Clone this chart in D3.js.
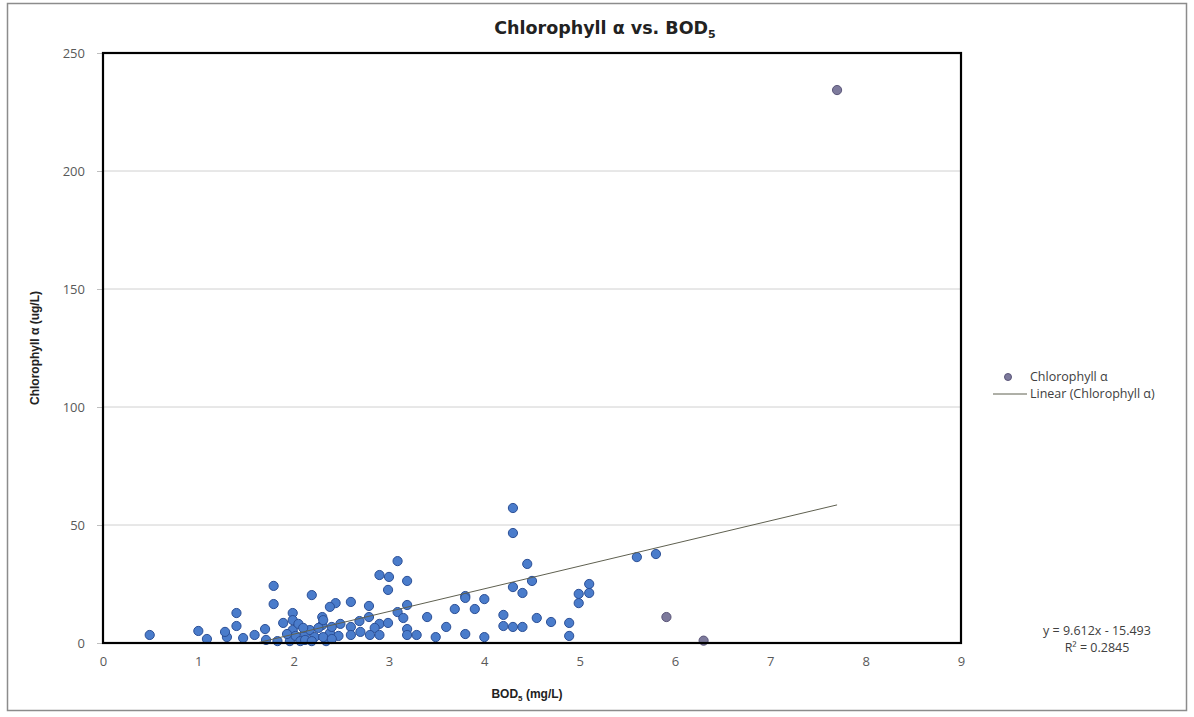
<!DOCTYPE html>
<html>
<head>
<meta charset="utf-8">
<script src="https://cdn.jsdelivr.net/npm/d3@7"></script>
<style>
  body { margin: 0; background: #fff; }
</style>
</head>
<body>
<div id="chart"></div>
<script>
// BOD5 (mg/L) and chlorophyll a (ug/L)
var bod = [0.49, 1.0, 1.09, 1.30, 1.28, 1.40, 1.40, 1.59, 1.70, 1.79, 1.79, 1.89, 1.99, 1.99, 1.99,
  2.19, 2.30, 2.30, 1.96, 2.02, 2.07, 2.12, 2.12, 2.17, 2.22, 2.26, 2.05, 2.10, 1.93, 1.83, 1.71, 1.47,
  2.19, 2.34, 2.38, 2.47, 2.31, 2.40,
  3.09, 2.90, 3.00, 3.19, 2.99, 2.60, 2.79, 2.44, 2.38, 3.19, 3.09, 3.15, 2.79, 2.69, 2.60, 2.49,
  2.40, 2.31, 2.90, 2.99, 2.85, 2.80, 2.90, 2.60, 2.70, 3.19, 3.19, 3.29, 3.40, 3.49, 3.60, 3.69,
  3.80, 3.80, 3.90, 4.00, 3.80, 4.00, 4.20, 4.20, 4.30, 4.30,
  4.30, 4.30, 4.45, 4.50, 4.40, 4.40, 4.55, 4.70, 4.89, 4.89, 4.99, 4.99, 5.10, 5.10, 5.60, 5.80,
  5.91, 6.30, 7.70];
var chla = [3.4, 5.1, 1.7, 2.5, 4.7, 7.2, 12.7, 3.4, 5.9, 24.2, 16.5, 8.5, 12.7, 9.7, 5.5,
  20.3, 11.0, 7.6, 0.8, 3.0, 0.8, 3.8, 1.3, 5.5, 2.5, 6.4, 8.1, 6.4, 3.8, 0.8, 1.3, 2.1,
  0.8, 0.8, 4.2, 3.0, 2.5, 1.7,
  34.7, 28.8, 28.0, 26.3, 22.5, 17.4, 15.7, 16.9, 15.3, 16.1, 13.1, 10.6, 11.0, 9.3, 6.8, 8.1,
  6.8, 9.7, 8.1, 8.5, 6.4, 3.4, 3.4, 3.4, 4.7, 5.9, 3.4, 3.4, 11.0, 2.5, 6.8, 14.4,
  19.9, 19.1, 14.4, 18.6, 3.8, 2.5, 11.9, 7.2, 6.8, 23.7,
  57.2, 46.6, 33.5, 26.3, 21.2, 6.8, 10.6, 8.9, 8.5, 3.0, 16.9, 20.8, 21.2, 25.0, 36.4, 37.7,
  11.0, 1.0, 234.3];

var xTicks = [0, 1, 2, 3, 4, 5, 6, 7, 8, 9];
var yTicks = [0, 50, 100, 150, 200, 250];
var slope = 9.612, intercept = -15.493, r2 = 0.2845;

var data = bod.map(function(d, i) { return { x: d, y: chla[i] }; });

var W = 1194, H = 717;
var margin = { top: 53, right: 233, bottom: 74, left: 103 };
var width = W - margin.left - margin.right,
  height = H - margin.top - margin.bottom;

var sans = "'Liberation Sans', Arial, sans-serif";
var body = "'Open Sans', sans-serif";

var svg = d3.select("#chart").append("svg")
  .attr("width", W).attr("height", H);

// outer chart border
svg.append("rect")
  .attr("x", 7.5).attr("y", 3.5).attr("width", 1179).attr("height", 707)
  .attr("fill", "#fff").attr("stroke", "#8c8c8c").attr("stroke-width", 1.5);

var x = d3.scaleLinear().domain([0, 9]).range([0, width]);
var y = d3.scaleLinear().domain([0, 250]).range([height, 0]);

var g = svg.append("g")
  .attr("transform", "translate(" + margin.left + "," + margin.top + ")");

g.append("clipPath").attr("id", "plotClip")
  .append("rect").attr("width", width).attr("height", height);

// gridlines
g.selectAll(".grid").data(yTicks.slice(1, -1)).enter().append("line")
  .attr("x1", 0).attr("x2", width)
  .attr("y1", function(d) { return y(d); }).attr("y2", function(d) { return y(d); })
  .attr("stroke", "#d0d0d0").attr("stroke-width", 1);

// y axis
var yAxis = g.append("g").call(d3.axisLeft(y).tickValues(yTicks).tickSize(6).tickPadding(12));
yAxis.select(".domain").remove();
yAxis.selectAll("line").attr("stroke", "#bfbfbf");
yAxis.selectAll("text").attr("fill", "#595959").attr("font-size", 13)
  .attr("font-family", body);

// x axis
var xAxis = g.append("g").attr("transform", "translate(0," + height + ")")
  .call(d3.axisBottom(x).tickValues(xTicks).tickSize(0).tickPadding(14));
xAxis.select(".domain").remove();
xAxis.selectAll("text").attr("fill", "#595959").attr("font-size", 13)
  .attr("font-family", body);

function dotFill(d) { return d.x > 5.85 ? "#7d7a9c" : "#4a7ccb"; }
function dotStroke(d) { return d.x > 5.85 ? "#5a5578" : "#2b4f96"; }

// points
g.append("g").selectAll("circle").data(data).enter().append("circle")
  .attr("cx", function(d) { return x(d.x); })
  .attr("cy", function(d) { return y(d.y); })
  .attr("r", 4.6)
  .attr("fill", dotFill)
  .attr("stroke", dotStroke)
  .attr("stroke-width", 1);

// linear trendline, from min to max x, clipped to plot
var xMin = d3.min(bod), xMax = d3.max(bod);
g.append("line")
  .attr("clip-path", "url(#plotClip)")
  .attr("x1", x(xMin)).attr("y1", y(slope * xMin + intercept))
  .attr("x2", x(xMax)).attr("y2", y(slope * xMax + intercept))
  .attr("stroke", "#5f6050").attr("stroke-width", 1);

// plot border
g.append("rect").attr("width", width).attr("height", height)
  .attr("fill", "none").attr("stroke", "#000").attr("stroke-width", 2.2);

// title
var title = svg.append("text").attr("x", 605).attr("y", 34)
  .attr("text-anchor", "middle").attr("font-size", 17.5).attr("font-weight", "bold")
  .attr("font-family", "'DejaVu Sans', sans-serif").attr("fill", "#222");
title.append("tspan").text("Chlorophyll α vs. BOD");
title.append("tspan").attr("font-size", 11).attr("dy", 4).text("5");

// axis titles
svg.append("text")
  .attr("transform", "translate(39," + (margin.top + height / 2) + ") rotate(-90)")
  .attr("text-anchor", "middle").attr("font-size", 12).attr("font-weight", "bold")
  .attr("font-family", sans).attr("fill", "#222").text("Chlorophyll α (ug/L)");

var xt = svg.append("text").attr("x", 527).attr("y", 698)
  .attr("text-anchor", "middle").attr("font-size", 12).attr("font-weight", "bold")
  .attr("font-family", sans).attr("fill", "#222");
xt.append("tspan").text("BOD");
xt.append("tspan").attr("font-size", 8).attr("dy", 3).text("5");
xt.append("tspan").attr("dy", -3).text(" (mg/L)");

// legend
var leg = svg.append("g");
leg.append("circle").attr("cx", 1008).attr("cy", 377).attr("r", 3.5)
  .attr("fill", "#7d7a9c").attr("stroke", "#5a5578");
leg.append("text").attr("x", 1030).attr("y", 381).text("Chlorophyll α");
leg.append("line").attr("x1", 993).attr("x2", 1027).attr("y1", 394).attr("y2", 394)
  .attr("stroke", "#5f6050").attr("stroke-width", 1);
leg.append("text").attr("x", 1030).attr("y", 398).text("Linear (Chlorophyll α)");
leg.selectAll("text").attr("font-family", body).attr("font-size", 12.5).attr("fill", "#404040");

// equation
var eq = svg.append("g");
eq.append("text").attr("x", 1097).attr("y", 635)
  .text("y = " + slope.toFixed(3) + "x - " + Math.abs(intercept).toFixed(3));
eq.append("text").attr("x", 1097).attr("y", 652).text("R² = " + r2.toFixed(4));
eq.selectAll("text").attr("font-family", body).attr("font-size", 12.5)
  .attr("fill", "#404040").attr("text-anchor", "middle");
</script>
</body>
</html>
